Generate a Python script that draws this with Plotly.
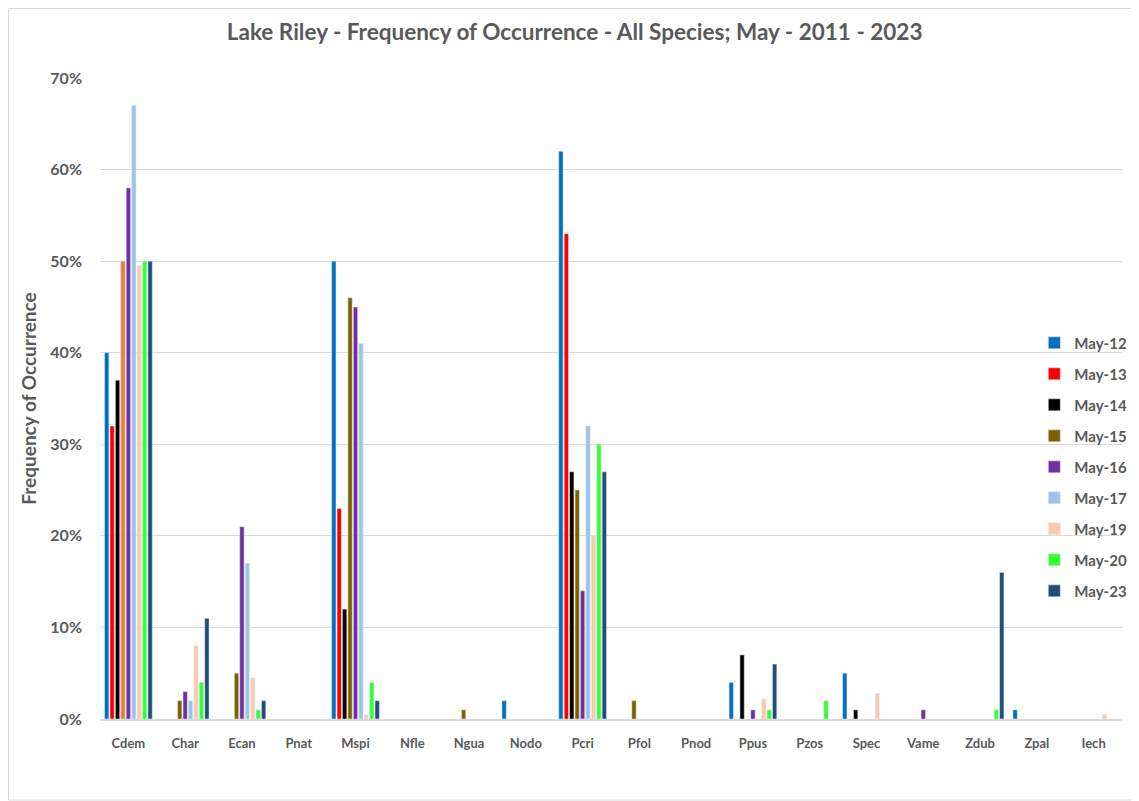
import plotly.graph_objects as go

categories = ["Cdem", "Char", "Ecan", "Pnat", "Mspi", "Nfle", "Ngua", "Nodo", "Pcri",
              "Pfol", "Pnod", "Ppus", "Pzos", "Spec", "Vame", "Zdub", "Zpal", "Iech"]

may12 = [40, 0, 0, 0, 50, 0, 0, 2, 62, 0, 0, 4, 0, 5, 0, 0, 1, 0]
may13 = [32, 0, 0, 0, 23, 0, 0, 0, 53, 0, 0, 0, 0, 0, 0, 0, 0, 0]
may14 = [37, 0, 0, 0, 12, 0, 0, 0, 27, 0, 0, 7, 0, 1, 0, 0, 0, 0]
may15 = [50, 2, 5, 0, 46, 0, 1, 0, 25, 2, 0, 0, 0, 0, 0, 0, 0, 0]
may16 = [58, 3, 21, 0, 45, 0, 0, 0, 14, 0, 0, 1, 0, 0, 1, 0, 0, 0]
may17 = [67, 2, 17, 0, 41, 0, 0, 0, 32, 0, 0, 0, 0, 0, 0, 0, 0, 0]
may19 = [49.5, 8, 4.5, 0, 0.5, 0, 0, 0, 20, 0, 0, 2.2, 0, 2.8, 0, 0, 0, 0.5]
may20 = [50, 4, 1, 0, 4, 0, 0, 0, 30, 0, 0, 1, 2, 0, 0, 1, 0, 0]
may23 = [50, 11, 2, 0, 2, 0, 0, 0, 27, 0, 0, 6, 0, 0, 0, 16, 0, 0]

series_names = ["May-12", "May-13", "May-14", "May-15", "May-16", "May-17", "May-19", "May-20", "May-23"]
series_values = [may12, may13, may14, may15, may16, may17, may19, may20, may23]
series_colors = ["#0070C0", "#FF0000", "#000000", "#7F6000", "#7030A0",
                 "#9DC3E6", "#F8CBAD", "#33FF33", "#1F4E79"]

# single point in the May-15 series drawn in a different colour in the original
highlight_category = ["Cdem"]
highlight_value = [may15[0]]
highlight_color = "#ED7D31"

fig = go.Figure()
for name, vals, col in zip(series_names, series_values, series_colors):
    fig.add_trace(go.Bar(
        x=categories, y=[v if v else None for v in vals], name=name, marker_color=col,
        offsetgroup=name, legendgroup=name,
    ))
fig.add_trace(go.Bar(
    x=highlight_category, y=highlight_value, name="May-15",
    marker_color=highlight_color, offsetgroup="May-15", showlegend=False,
))

gray = "#595959"
fig.update_layout(
    width=1131, height=793,
    paper_bgcolor="white", plot_bgcolor="white",
    margin=dict(l=92, r=17, t=70, b=82, autoexpand=False),
    barmode="group", bargap=0.14, bargroupgap=0.2,
    font=dict(family="Lato, Open Sans, sans-serif", color=gray),
    title=dict(text="<b>Lake Riley - Frequency of Occurrence - All Species; May - 2011 - 2023</b>",
               x=0.501, xanchor="center", y=0.97, yanchor="middle",
               font=dict(size=22.5, color=gray)),
    legend=dict(x=0.9142, xanchor="left", y=0.393, yanchor="middle",
                traceorder="grouped", tracegroupgap=8.5,
                bgcolor="rgba(0,0,0,0)",
                font=dict(size=15, color=gray, family="Lato, sans-serif", weight="bold"),
                itemwidth=30),
    showlegend=True,
)
fig.update_xaxes(
    showgrid=False, showline=True, linecolor="#D9D9D9", linewidth=1.5,
    ticks="", tickfont=dict(size=13, color=gray, family="Lato, sans-serif", weight="bold"),
    ticklabelstandoff=12,
)
fig.update_yaxes(
    range=[0, 70], dtick=10, ticksuffix="%",
    showgrid=True, gridcolor="#D9D9D9", gridwidth=1, zeroline=False,
    tickfont=dict(size=16, color=gray, family="Lato, sans-serif", weight="bold"),
    ticklabelstandoff=17,
    title=dict(text="<b>Frequency of Occurrence</b>", font=dict(size=19, color=gray), standoff=8),
)
fig.add_shape(type="rect", xref="paper", yref="paper",
              x0=-91.5 / 1022, x1=(1130 - 92) / 1022, y0=-(792 - 711) / 641, y1=1 + 69.5 / 641,
              line=dict(color="#D9D9D9", width=1))
fig.write_html("out.html")
